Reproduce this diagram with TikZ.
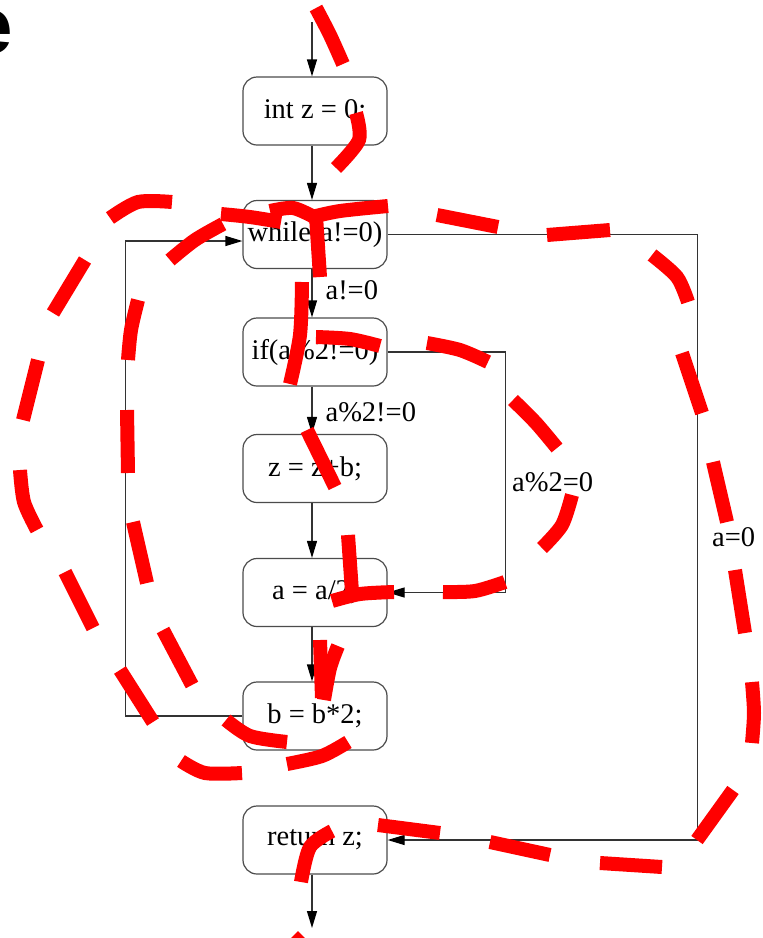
\documentclass[tikz,border=0pt]{standalone}
\usepackage{fontspec}
\setmainfont{Liberation Serif}
\newfontfamily\headsans{Liberation Sans}
\usetikzlibrary{arrows.meta}
\begin{document}
\begin{tikzpicture}[x=1pt,y=-1pt,
  stmt/.style={draw=black!70, line width=1.2pt, rounded corners=14pt,
    minimum width=144pt, minimum height=68pt, inner sep=0pt,
    font=\fontsize{28.5}{30}\selectfont},
  flow/.style={draw=black!80, line width=1.2pt,
    -{Triangle[length=17pt,width=10pt,black]}},
  cond/.style={font=\fontsize{28.5}{30}\selectfont, inner sep=0pt, anchor=west},
  redstroke/.style={draw=red, line width=14pt, line cap=butt},
]
% canvas
\useasboundingbox (0,0) rectangle (763,938);
\fill[white] (0,0) rectangle (763,938);
\clip (0,0) rectangle (763,938);

% heading letter, cut by the left edge
\node[anchor=base west, inner sep=0pt,
  font=\headsans\bfseries\fontsize{80}{80}\selectfont] (cut) at (-32,53) {e};

% statements
\node[stmt] (init) at (315,111)   {int z = 0;};
\node[stmt] (loop) at (315,234.5) {while(a!=0)};
\node[stmt] (test) at (315,352)   {if(a\%2!=0)};
\node[stmt] (addz) at (315,468.5) {z = z+b;};
\node[stmt] (half) at (315,592.5) {a = a/2;};
\node[stmt] (dbl)  at (315,716)   {b = b*2;};
\node[stmt] (ret)  at (315,840)   {return z;};

\coordinate (entry) at (312,22);
\coordinate (exit)  at (312,928);

% control flow
\draw[flow] (entry) -- ([xshift=-3pt]init.north);
\draw[flow] ([xshift=-3pt]init.south) -- ([xshift=-3pt]loop.north);
\draw[flow] ([xshift=-3pt]loop.south) --
  node[cond, pos=0.43, xshift=13pt] (c1) {a!=0} ([xshift=-3pt]test.north);
\draw[flow] ([xshift=-3pt]test.south) --
  node[cond, pos=0.54, xshift=13pt] (c2) {a\%2!=0} ([xshift=-3pt]addz.north);
\draw[flow] ([xshift=-3pt]addz.south) -- ([xshift=-3pt]half.north);
\draw[flow] ([xshift=-3pt]half.south) -- ([xshift=-3pt]dbl.north);
\draw[flow] (dbl.west) -| ([xshift=-117pt,yshift=-6.5pt]loop.west)
  -- ([yshift=-6.5pt]loop.west);
\draw[flow] (test.east) -- ++(118,0) |-
  node[cond, pos=0.27, xshift=6pt] (c3) {a\%2=0} (half.east);
\draw[flow] (loop.east) -- ++(310,0) |-
  node[cond, pos=0.25, xshift=14pt] (c4) {a=0} (ret.east);
\draw[flow] ([xshift=-3pt]ret.south) -- (exit);

% red hand-drawn dashes
% top
\draw[redstroke] plot[smooth] coordinates {(316,8) (330,35) (343,64)};
\draw[redstroke] plot[smooth] coordinates {(356,113) (359,140) (336,168)};
% around the loop head
\draw[redstroke] plot[smooth] coordinates {(170,260) (195,240) (223,224)};
\draw[redstroke] plot[smooth] coordinates {(221,214) (250,217) (281,222)};
\draw[redstroke] plot[smooth] coordinates {(270,211) (293,208) (314,217)};
\draw[redstroke] plot[smooth] coordinates {(312,217) (340,211) (388,206)};
\draw[redstroke] (316,216) -- (320,277);
% down the middle
\draw[redstroke] plot[smooth] coordinates {(302,282) (300,335) (290,384)};
\draw[redstroke] plot[smooth] coordinates {(316,337) (350,339) (380,346)};
\draw[redstroke] (307,430) -- (335,487);
\draw[redstroke] (348,535) -- (352,592);
\draw[redstroke] plot[smooth] coordinates {(332,601) (360,594) (394,592)};
\draw[redstroke] (320,640) -- (322,698);
\draw[redstroke] plot[smooth] coordinates {(338,646) (330,668) (324,700)};
% inner branch loop
\draw[redstroke] plot[smooth] coordinates {(427,343) (460,350) (488,362)};
\draw[redstroke] plot[smooth] coordinates {(513,400) (536,423) (557,448)};
\draw[redstroke] plot[smooth] coordinates {(572,495) (562,525) (542,548)};
\draw[redstroke] plot[smooth] coordinates {(505,582) (475,591) (443,592)};
% left loops
\draw[redstroke] plot[smooth] coordinates {(110,218) (138,202) (172,202)};
\draw[redstroke] (85,260) -- (53,313);
\draw[redstroke] (38,360) -- (23,420);
\draw[redstroke] plot[smooth] coordinates {(20,470) (24,502) (37,530)};
\draw[redstroke] (65,572) -- (93,628);
\draw[redstroke] (120,670) -- (153,722);
\draw[redstroke] plot[smooth] coordinates {(138,300) (131,330) (128,360)};
\draw[redstroke] (127,410) -- (128,473);
\draw[redstroke] (133,522) -- (147,583);
\draw[redstroke] (163,630) -- (192,685);
\draw[redstroke] plot[smooth] coordinates {(226,720) (250,736) (287,742)};
\draw[redstroke] plot[smooth] coordinates {(287,764) (322,756) (348,742)};
\draw[redstroke] plot[smooth] coordinates {(181,761) (205,773) (242,773)};
% right loop
\draw[redstroke] (437,215) -- (498,227);
\draw[redstroke] (547,235) -- (610,230);
\draw[redstroke] plot[smooth] coordinates {(652,255) (677,277) (688,302)};
\draw[redstroke] (682,353) -- (702,413);
\draw[redstroke] (713,462) -- (727,522);
\draw[redstroke] (735,570) -- (745,633);
\draw[redstroke] plot[smooth] coordinates {(752,682) (754,713) (752,743)};
\draw[redstroke] (733,790) -- (697,840);
\draw[redstroke] plot[smooth] coordinates {(662,867) (631,865) (600,863)};
\draw[redstroke] (550,855) -- (490,842);
\draw[redstroke] (440,833) -- (378,825);
\draw[redstroke] plot[smooth] coordinates {(332,831) (310,847) (301,882)};
\draw[redstroke] (293,936) -- (303,946);
\end{tikzpicture}
\end{document}
